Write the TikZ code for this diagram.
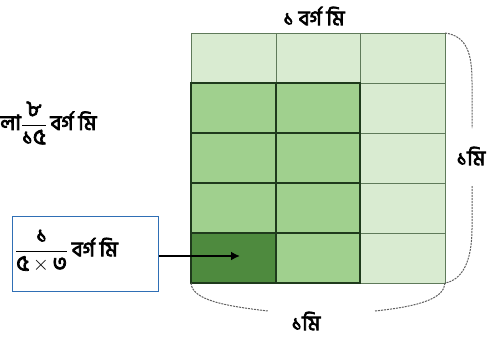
\documentclass[tikz,border=0pt]{standalone}
\usepackage{fontspec}
\newfontfamily\bn[Script=Bengali, FakeBold=3.5]{Hind Siliguri}
\usetikzlibrary{arrows.meta}
\definecolor{lightg}{HTML}{D9EBD1}
\definecolor{midg}{HTML}{A0D08E}
\definecolor{darkg}{HTML}{4E8A3E}
\definecolor{gridc}{HTML}{5F7A5A}
\definecolor{blockc}{HTML}{1F3A1C}
\definecolor{boxblue}{HTML}{2F6FB5}
\newcommand{\bfr}[2]{$\displaystyle\frac{\mbox{\fontsize{22}{24}\selectfont\rule[-5pt]{0pt}{5pt}#1}}{\mbox{\fontsize{22}{24}\selectfont\rule{0pt}{18pt}#2}}$}
\begin{document}
\begin{tikzpicture}[x=1pt,y=-1pt,
  lbl/.style={font=\bn\fontsize{21}{23}\selectfont, inner sep=0pt},
  gridline/.style={draw=gridc, line width=1pt},
  blockline/.style={draw=blockc, line width=1.3pt},
  brace/.style={draw=gray!75!black, line width=1pt, dash pattern=on 2pt off 1pt},
  arr/.style={-{Latex[length=9pt,width=9pt]}, line width=2pt, draw=black}]
\useasboundingbox (0,0) rectangle (502,343);
% fills
\fill[lightg] (191,33) rectangle (445,83);
\fill[lightg] (360,83) rectangle (445,283);
\fill[midg] (191,83) rectangle (360,283);
\fill[darkg] (191,233) rectangle (276,283);
% grid
\draw[gridline] (191,33) rectangle (445,283);
\draw[gridline] (276,33) -- (276,83) (360,33) -- (360,83);
\foreach \yy in {83,133,183,233} \draw[gridline] (360,\yy) -- (445,\yy);
% block
\draw[blockline] (191,83) rectangle (360,283);
\draw[blockline] (276,83) -- (276,283);
\foreach \yy in {133,183,233} \draw[blockline] (191,\yy) -- (360,\yy);
% labels
\node[lbl] (top) at (314,16) {১ বর্গ মি};
\node[lbl, anchor=west] (left) at (0,123) {লা\bfr{৮}{১৫}\,বর্গ মি};
\node[draw=boxblue, line width=1.3pt, minimum width=146pt, minimum height=75pt, anchor=north west] (box) at (12,216) {};
\node[lbl, anchor=west] (boxtxt) at (15,251) {\bfr{১}{৫\,$\times$\,৩}\,বর্গ মি};
\coordinate (tip) at (240,256);
\draw[arr] (box.east |- tip) -- (tip);
% braces
\draw[brace] (445,33) .. controls (468,36) and (472,56) .. (472,82) -- (472,128);
\draw[brace] (472,186) -- (472,228) .. controls (472,262) and (462,280) .. (445,283);
\node[lbl] (right) at (471,156) {১মি};
\draw[brace] (191,283) .. controls (192,300) and (225,306) .. (268,311);
\draw[brace] (375,311) .. controls (422,306) and (444,298) .. (445,283);
\node[lbl] (bottom) at (306,321) {১মি};
\end{tikzpicture}
\end{document}
